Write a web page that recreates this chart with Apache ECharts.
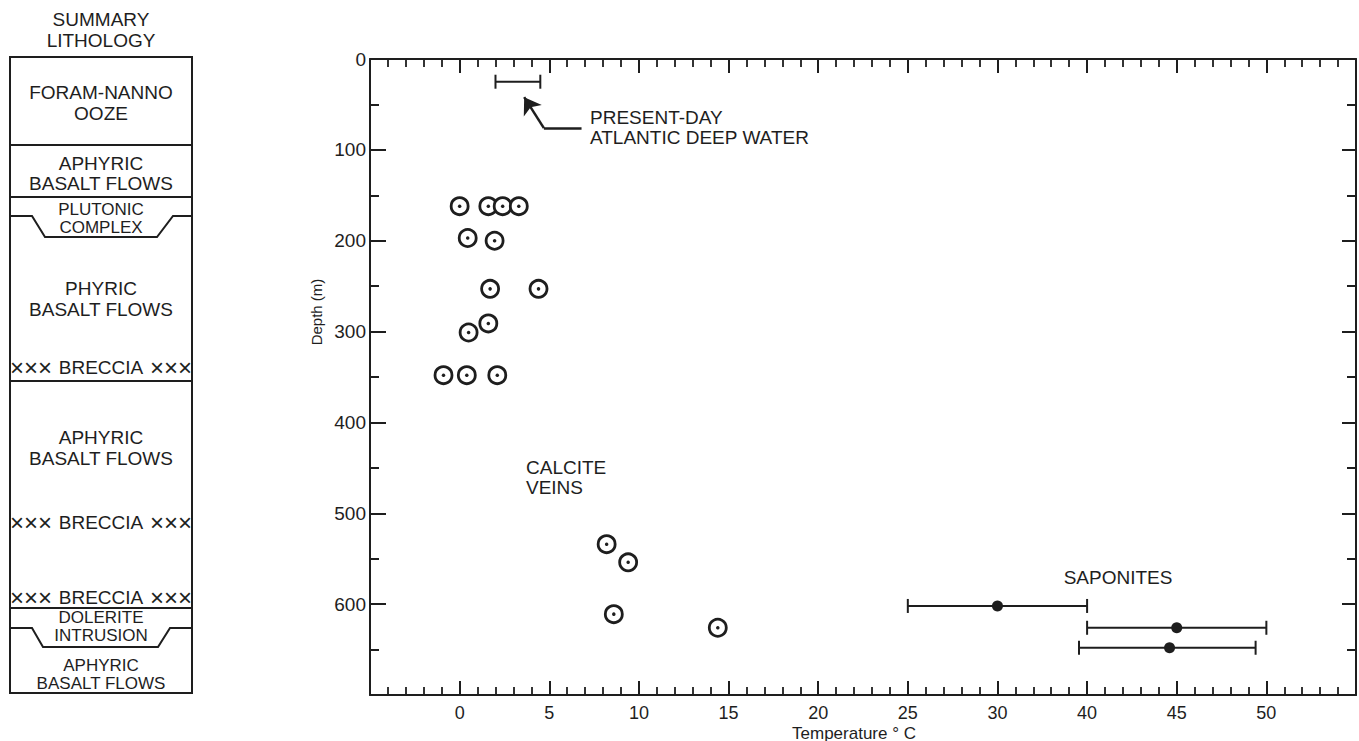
<!DOCTYPE html>
<html>
<head>
<meta charset="utf-8">
<title>Temperature vs depth</title>
<script src="https://cdn.jsdelivr.net/npm/echarts@6.0.0/dist/echarts.min.js"></script>
<style>
  html, body { margin: 0; padding: 0; background: #fff; }
  #chart { width: 1359px; height: 741px; }
</style>
</head>
<body>
<div id="chart"></div>
<script>
// tick labels as printed on the temperature axis, one per 5 axis units (35 is skipped in the original)
const xTickLabels = [0, 5, 10, 15, 20, 25, 30, 40, 45, 50]

// calcite veins (open circles)
const calciteTemp  = [0.0, 1.6, 2.4, 3.3, 0.45, 1.95, 1.7, 4.4, 1.6, 0.5, -0.9, 0.4, 2.1, 8.2, 9.4, 8.6, 14.4]
const calciteDepth = [162, 162, 162, 162, 197, 200, 253, 253, 291, 301, 348, 348, 348, 534, 554, 611, 626]

// saponites (filled dots with ranges)
const saponiteTemp  = [30, 45, 44.6]
const saponiteLow   = [25, 40, 39.1]
const saponiteHigh  = [40, 50, 49.4]
const saponiteDepth = [602, 626, 648]

// present-day atlantic deep water range
const waterLow = [2.0]
const waterHigh = [4.5]
const waterDepth = [25]

// leader arrow for the deep water note (temperature, depth), text end -> elbow -> tip
const arrowTemp = [6.8, 4.7, 3.6]
const arrowDepth = [76, 76, 42]

const FONT = '"Liberation Sans", Arial, Helvetica, sans-serif'
const INK = '#1e1e1e'

// place a printed temperature on the evenly ticked axis
function toAxisX(t) {
  const n = xTickLabels.length
  if (t <= xTickLabels[0]) return t - xTickLabels[0]
  for (let i = 0; i < n - 1; i++) {
    const a = xTickLabels[i], b = xTickLabels[i + 1]
    if (t <= b) return 5 * i + 5 * (t - a) / (b - a)
  }
  return 5 * (n - 1) + (t - xTickLabels[n - 1])
}

const calciteData = calciteTemp.map((t, i) => [toAxisX(t), calciteDepth[i]])
const saponiteData = saponiteTemp.map((t, i) => [toAxisX(t), saponiteDepth[i]])
const saponiteBars = saponiteLow.map((t, i) => [toAxisX(t), toAxisX(saponiteHigh[i]), saponiteDepth[i]])
const waterBars = waterLow.map((t, i) => [toAxisX(t), toAxisX(waterHigh[i]), waterDepth[i]])
const arrowCoords = arrowTemp.map((t, i) => [toAxisX(t), arrowDepth[i]])

function renderRange(params, api) {
  const a = api.coord([api.value(0), api.value(2)])
  const b = api.coord([api.value(1), api.value(2)])
  const h = 7
  const st = { stroke: INK, lineWidth: 2 }
  return {
    type: 'group',
    children: [
      { type: 'line', shape: { x1: a[0], y1: a[1], x2: b[0], y2: b[1] }, style: st },
      { type: 'line', shape: { x1: a[0], y1: a[1] - h, x2: a[0], y2: a[1] + h }, style: st },
      { type: 'line', shape: { x1: b[0], y1: b[1] - h, x2: b[0], y2: b[1] + h }, style: st }
    ]
  }
}

function txt(text, x, y, size, align, extra) {
  return Object.assign({
    type: 'text', x, y, silent: true,
    style: { text, fill: INK, font: size + 'px ' + FONT, align: align || 'center', verticalAlign: 'middle' }
  }, extra || {})
}
function seg(x1, y1, x2, y2) {
  return { type: 'line', silent: true, shape: { x1, y1, x2, y2 }, style: { stroke: INK, lineWidth: 2 } }
}
function poly(points) {
  return { type: 'polyline', silent: true, shape: { points }, style: { stroke: INK, lineWidth: 2, fill: null } }
}
function breccia(y) {
  return [
    txt('×××', 10, y, 24, 'left'),
    txt('BRECCIA', 101, y, 19),
    txt('×××', 192, y, 24, 'right')
  ]
}

const LS = 19
const TS = 17 // tighter two-line labels
// lithology column on the left
const lithology = [
  txt('SUMMARY', 101, 19, LS),
  txt('LITHOLOGY', 101, 40, LS),
  { type: 'rect', silent: true, shape: { x: 10, y: 57, width: 182, height: 636 }, style: { stroke: INK, lineWidth: 2, fill: null } },
  txt('FORAM-NANNO', 101, 92, LS),
  txt('OOZE', 101, 113, LS),
  seg(10, 145, 192, 145),
  txt('APHYRIC', 101, 163, LS),
  txt('BASALT FLOWS', 101, 183, LS),
  seg(10, 197, 192, 197),
  txt('PLUTONIC', 101, 209, TS),
  poly([[10, 216], [32, 216], [45, 237], [157, 237], [173, 216], [192, 216]]),
  txt('COMPLEX', 101, 227, TS),
  txt('PHYRIC', 101, 288, LS),
  txt('BASALT FLOWS', 101, 309, LS),
  ...breccia(367),
  seg(10, 381, 192, 381),
  txt('APHYRIC', 101, 437, LS),
  txt('BASALT FLOWS', 101, 458, LS),
  ...breccia(522),
  ...breccia(597),
  seg(10, 608, 192, 608),
  txt('DOLERITE', 101, 617, TS),
  poly([[10, 628], [32, 628], [43, 647], [158, 647], [170, 628], [192, 628]]),
  txt('INTRUSION', 101, 635, TS),
  txt('APHYRIC', 101, 665, TS),
  txt('BASALT FLOWS', 101, 683, TS)
]

const notes = [
  txt('PRESENT-DAY', 590, 117, LS, 'left'),
  txt('ATLANTIC DEEP WATER', 590, 137, LS, 'left'),
  txt('CALCITE', 526, 467, LS, 'left'),
  txt('VEINS', 526, 487, LS, 'left'),
  txt('SAPONITES', 1118, 577, LS),
  txt('Depth (m)', 316, 312, 15, 'center', { rotation: Math.PI / 2 }),
  txt('Temperature ° C', 854, 733, 17)
]

const xBase = {
  type: 'value', min: -5, max: 50, interval: 5,
  axisLine: { show: true, onZero: false, lineStyle: { color: INK, width: 2 } },
  axisTick: { show: true, inside: true, length: 14, lineStyle: { color: INK, width: 2 } },
  minorTick: { show: true, splitNumber: 5, length: 8, lineStyle: { color: INK, width: 1.8 } },
  splitLine: { show: false }
}
const yBase = {
  type: 'value', inverse: true, min: 0, max: 700, interval: 100,
  axisLine: { show: true, onZero: false, lineStyle: { color: INK, width: 2 } },
  axisTick: { show: true, inside: true, length: 16, lineStyle: { color: INK, width: 2 } },
  minorTick: { show: true, splitNumber: 2, length: 9, lineStyle: { color: INK, width: 2 } },
  splitLine: { show: false }
}

const chart = echarts.init(document.getElementById('chart'), null, { renderer: 'svg' })
chart.setOption({
  backgroundColor: '#fff',
  animation: false,
  grid: { left: 370, right: 2, top: 59, bottom: 46 },
  xAxis: [
    Object.assign({}, xBase, {
      position: 'bottom',
      axisLabel: {
        margin: 9, fontSize: 18, color: INK, fontFamily: FONT,
        formatter: v => {
          const i = Math.round(v / 5)
          return (v >= 0 && i < xTickLabels.length) ? String(xTickLabels[i]) : ''
        }
      }
    }),
    Object.assign({}, xBase, { position: 'top', axisLabel: { show: false } })
  ],
  yAxis: [
    Object.assign({}, yBase, {
      position: 'left',
      axisLabel: {
        margin: 4, fontSize: 19, color: INK, fontFamily: FONT,
        formatter: v => (v >= 700 ? '' : String(v))
      }
    }),
    Object.assign({}, yBase, {
      position: 'right', axisLabel: { show: false },
      axisTick: { show: true, inside: true, length: 14, lineStyle: { color: INK, width: 2 } }
    })
  ],
  graphic: lithology.concat(notes),
  series: [
    {
      type: 'custom', name: 'deep water', renderItem: renderRange,
      encode: { x: [0, 1], y: 2 }, data: waterBars, silent: true
    },
    {
      type: 'lines', coordinateSystem: 'cartesian2d',
      symbol: 'none',
      lineStyle: { color: INK, width: 2.5, opacity: 1, curveness: 0 },
      data: [{ coords: [arrowCoords[0], arrowCoords[1]] }], silent: true
    },
    {
      type: 'lines', coordinateSystem: 'cartesian2d',
      symbol: ['none', 'arrow'], symbolSize: 16,
      lineStyle: { color: INK, width: 2.5, opacity: 1, curveness: 0 },
      data: [{ coords: [arrowCoords[1], arrowCoords[2]] }], silent: true
    },
    {
      type: 'scatter', name: 'calcite veins', data: calciteData,
      symbol: 'circle', symbolSize: 17,
      itemStyle: { color: '#fff', borderColor: INK, borderWidth: 2.8, opacity: 1 }
    },
    {
      type: 'scatter', name: 'calcite centre', data: calciteData,
      symbol: 'circle', symbolSize: 3.5, itemStyle: { color: INK, opacity: 1 }
    },
    {
      type: 'custom', name: 'saponite range', renderItem: renderRange,
      encode: { x: [0, 1], y: 2 }, data: saponiteBars, silent: true
    },
    {
      type: 'scatter', name: 'saponites', data: saponiteData,
      symbol: 'circle', symbolSize: 11, itemStyle: { color: INK, opacity: 1 }
    }
  ]
})
</script>
</body>
</html>
